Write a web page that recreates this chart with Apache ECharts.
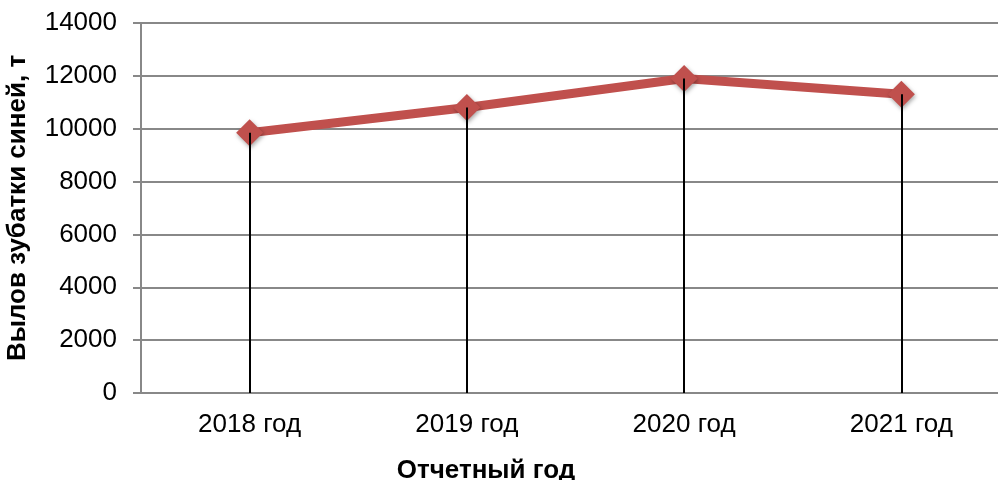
<!DOCTYPE html>
<html>
<head>
<meta charset="utf-8">
<script src="https://cdn.jsdelivr.net/npm/echarts@6/dist/echarts.min.js"></script>
<style>
  html, body { margin: 0; padding: 0; background: #fff; }
  #main { width: 998px; height: 480px; }
</style>
</head>
<body>
<div id="main"></div>
<script>
var years = ['2018 год', '2019 год', '2020 год', '2021 год'];
var catch_t = [9850, 10800, 11900, 11300]; // вылов, т
var yTicks = { min: 0, max: 14000, step: 2000 };

// вертикальные линии от точки до оси
var dropLines = [];
for (var i = 0; i < years.length; i++) {
    dropLines.push([{ coord: [years[i], 0] }, { coord: [years[i], catch_t[i]] }]);
}

var myChart = echarts.init(document.getElementById('main'));
var option = {
    animation: false,
    title: {
        text: 'Отчетный год',
        left: 481,
        top: 453,
        textAlign: 'center',
        textStyle: { color: '#000', fontWeight: 'bold', fontSize: 26, fontFamily: 'Liberation Sans' }
    },
    graphic: [{
        type: 'text',
        x: 18,
        y: 208,
        rotation: Math.PI / 2,
        style: {
            text: 'Вылов зубатки синей, т',
            fill: '#000',
            font: 'bold 26px "Liberation Sans"',
            align: 'center',
            verticalAlign: 'middle'
        }
    }],
    grid: { left: 141, top: 23, width: 869, height: 370, outerBoundsMode: 'none', containLabel: false },
    xAxis: {
        type: 'category',
        data: years,
        boundaryGap: true,
        axisLine: { lineStyle: { color: '#888', width: 2 } },
        axisTick: { show: false },
        axisLabel: { color: '#000', fontSize: 26, fontFamily: 'Liberation Sans', margin: 19 }
    },
    yAxis: {
        type: 'value',
        min: yTicks.min,
        max: yTicks.max,
        interval: yTicks.step,
        axisLine: { show: true, lineStyle: { color: '#888', width: 2 } },
        axisTick: { show: true, length: 8, lineStyle: { color: '#888', width: 2 } },
        splitLine: { lineStyle: { color: '#888', width: 2 } },
        axisLabel: {
            color: '#000', fontSize: 26, fontFamily: 'Liberation Sans', margin: 24,
            formatter: function (v) { return String(v); }
        }
    },
    series: [{
        name: 'Вылов',
        type: 'line',
        data: catch_t,
        symbol: 'diamond',
        symbolSize: 27,
        z: 3,
        lineStyle: { color: '#C0504D', width: 9 },
        itemStyle: {
            color: '#C0504D',
            shadowColor: 'rgba(0,0,0,0.35)',
            shadowBlur: 4,
            shadowOffsetX: 1,
            shadowOffsetY: 2
        },
        markLine: {
            silent: true,
            symbol: 'none',
            z: 5,
            label: { show: false },
            lineStyle: { color: '#000', width: 2, type: 'solid' },
            data: dropLines
        }
    }]
};
myChart.setOption(option);
</script>
</body>
</html>
